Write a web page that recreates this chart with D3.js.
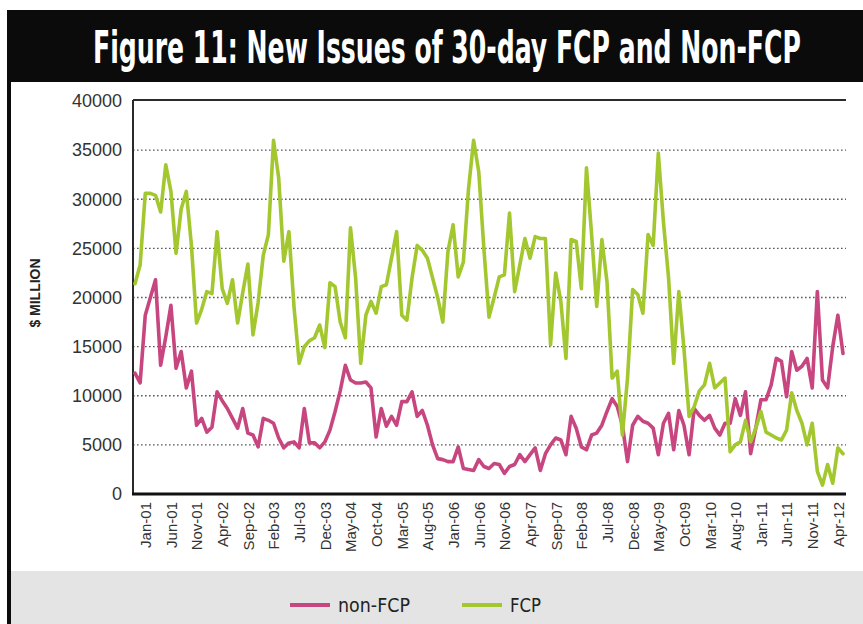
<!DOCTYPE html>
<html>
<head>
<meta charset="utf-8">
<script src="https://cdn.jsdelivr.net/npm/d3@7"></script>
<style>
  body { margin: 0; background: #fff; }
  svg { display: block; }
</style>
</head>
<body>
<svg id="chart" width="863" height="624"></svg>
<script>
// Monthly categories, Nov-00 through May-12
const firstMonth = new Date(2000, 10, 1);
const lastMonth = new Date(2012, 4, 1);
const months = d3.timeMonth.range(firstMonth, d3.timeMonth.offset(lastMonth, 1))
  .map(d3.timeFormat("%b-%y"));

const tickLabels = ["Jan-01","Jun-01","Nov-01","Apr-02","Sep-02","Feb-03","Jul-03","Dec-03",
  "May-04","Oct-04","Mar-05","Aug-05","Jan-06","Jun-06","Nov-06","Apr-07","Sep-07","Feb-08",
  "Jul-08","Dec-08","May-09","Oct-09","Mar-10","Aug-10","Jan-11","Jun-11","Nov-11","Apr-12"];

const yTicks = [0, 5000, 10000, 15000, 20000, 25000, 30000, 35000, 40000];

// New issues, $ million
const nonFCP = [
  12300, 11300, 18200, 20000, 21800, 13100, 16000, 19200, 12800, 14500,
  10800, 12500, 7000, 7700, 6300, 6800, 10400, 9500, 8700, 7700,
  6700, 8700, 6200, 6000, 4800, 7700, 7500, 7200, 5700, 4700,
  5200, 5300, 4700, 8700, 5200, 5200, 4700, 5300, 6500, 8400,
  10500, 13100, 11600, 11300, 11300, 11400, 10800, 5800, 8700, 6900,
  7900, 7000, 9400, 9400, 10400, 7900, 8500, 7000, 5000, 3600,
  3500, 3300, 3300, 4800, 2600, 2500, 2400, 3500, 2800, 2600,
  3100, 3000, 2100, 2800, 3000, 4000, 3300, 4000, 4700, 2400,
  4100, 5000, 5700, 5500, 4000, 7900, 6700, 4800, 4500, 6000,
  6200, 7000, 8400, 9700, 8900, 7000, 3300, 7000, 7900, 7400,
  7200, 6700, 4000, 7200, 8200, 4500, 8500, 7000, 4000, 8700,
  8000, 7500, 8000, 6700, 6000, 7200, 7200, 9700, 8000, 10400,
  4100, 6700, 9600, 9600, 11100, 13800, 13500, 9900, 14500, 12600,
  13000, 13800, 10800, 20600, 11600, 10800, 15000, 18200, 14300
];

const fcp = [
  21400, 23300, 30600, 30600, 30400, 28700, 33500, 30800, 24500, 29000,
  30800, 25300, 17400, 18800, 20600, 20400, 26700, 20900, 19400, 21800,
  17400, 20500, 23400, 16200, 19500, 24300, 26400, 36000, 32200, 23700,
  26700, 19000, 13300, 15000, 15600, 15900, 17200, 14900, 21500, 21100,
  17500, 15900, 27100, 22000, 13300, 18200, 19600, 18400, 21100, 21300,
  24000, 26700, 18200, 17700, 22000, 25300, 24800, 24000, 22000, 20000,
  17500, 24700, 27400, 22100, 23600, 31000, 36000, 32800, 25000, 18000,
  20000, 22100, 22300, 28600, 20600, 23300, 26000, 24000, 26200, 26000,
  26000, 15200, 22500, 19600, 13800, 25900, 25700, 20900, 33200, 26400,
  19100, 25900, 21600, 11800, 12500, 6000, 11800, 20800, 20300, 18400,
  26400, 25300, 34700, 27700, 22000, 13300, 20600, 14800, 7900, 8900,
  10500, 11100, 13300, 10800, 11300, 11800, 4300, 5000, 5300, 7500,
  5300, 6700, 8400, 6300, 6000, 5700, 5500, 6500, 10300, 8500,
  7200, 5000, 7200, 2300, 900, 3000, 1100, 4700, 4100
];

const seriesNames = ["non-FCP", "FCP"];
const seriesValues = [nonFCP, fcp];
const seriesColors = ["#c8467f", "#a3c72f"];

const svg = d3.select("#chart");
const W = 863, H = 624;
const plot = { left: 133, right: 846, top: 100, bottom: 494 };
const condensed = "'Liberation Sans Narrow', 'DejaVu Sans Condensed', 'Liberation Sans', sans-serif";

// Page frame: black title band and left rule
svg.append("rect").attr("x", 0).attr("y", 0).attr("width", W).attr("height", H).attr("fill", "#fff");
svg.append("rect").attr("x", 7).attr("y", 10).attr("width", W - 7).attr("height", 72).attr("fill", "#0b0b0b");
svg.append("rect").attr("x", 7).attr("y", 10).attr("width", 4).attr("height", H - 10).attr("fill", "#0b0b0b");

// Fit a text element horizontally to a given width, keeping its glyph height
function fitWidth(sel, left, base, width) {
  const w = sel.node().getComputedTextLength();
  sel.attr("transform", `translate(${left},${base}) scale(${width / w},1)`);
}

// Title
const title = svg.append("text")
  .attr("font-family", condensed)
  .attr("font-weight", "bold")
  .attr("font-size", 44)
  .attr("fill", "#fff")
  .text("Figure 11: New Issues of 30-day FCP and Non-FCP");
fitWidth(title, 93, 63, 708);

// Legend band
svg.append("rect").attr("x", 11).attr("y", 571).attr("width", W - 11).attr("height", H - 571).attr("fill", "#e4e4e4");

const x = d3.scalePoint().domain(months).range([135, 843]);
const y = d3.scaleLinear().domain([0, 40000]).range([plot.bottom, plot.top + 1]);

// Dotted gridlines
svg.append("g").selectAll("line")
  .data(yTicks.filter(v => v > 0 && v < 40000))
  .join("line")
  .attr("x1", plot.left).attr("x2", plot.right)
  .attr("y1", d => y(d)).attr("y2", d => y(d))
  .attr("stroke", "#5a5a5a").attr("stroke-width", 1.3)
  .attr("stroke-dasharray", "1.6,2.4");

// Y axis labels
const yAxis = svg.append("g")
  .attr("transform", `translate(${plot.left},0)`)
  .call(d3.axisLeft(y).tickValues(yTicks).tickSize(0).tickPadding(11).tickFormat(d3.format("d")));
yAxis.select(".domain").remove();
yAxis.selectAll("text")
  .attr("font-family", "'Liberation Sans', Arial, sans-serif")
  .attr("font-size", 18)
  .attr("fill", "#333");

// Y axis title
svg.append("text")
  .attr("transform", "translate(40,293) rotate(-90)")
  .attr("text-anchor", "middle")
  .attr("font-family", "'Liberation Sans', Arial, sans-serif")
  .attr("font-weight", "bold")
  .attr("font-size", 14)
  .attr("fill", "#222")
  .text("$ MILLION");

// X axis labels, rotated
const xAxis = svg.append("g")
  .attr("transform", `translate(0,${plot.bottom})`)
  .call(d3.axisBottom(x).tickValues(tickLabels).tickSize(0));
xAxis.select(".domain").remove();
xAxis.selectAll("text")
  .attr("transform", "rotate(-90)")
  .attr("x", -8).attr("y", 0).attr("dy", "0.36em")
  .style("text-anchor", "end")
  .attr("font-family", "'Liberation Sans', Arial, sans-serif")
  .attr("font-size", 15)
  .attr("fill", "#333");

// Plot frame
svg.append("line").attr("x1", plot.left).attr("x2", plot.right).attr("y1", plot.top).attr("y2", plot.top)
  .attr("stroke", "#2a2a2a").attr("stroke-width", 2);
svg.append("line").attr("x1", plot.left).attr("x2", plot.left).attr("y1", plot.top).attr("y2", plot.bottom)
  .attr("stroke", "#2a2a2a").attr("stroke-width", 2);

// Series lines
const line = d3.line().x((d, i) => x(months[i])).y(d => y(d));
seriesValues.forEach((vals, k) => {
  svg.append("path")
    .datum(vals)
    .attr("fill", "none")
    .attr("stroke", seriesColors[k])
    .attr("stroke-width", 3.6)
    .attr("stroke-linejoin", "round")
    .attr("stroke-linecap", "round")
    .attr("d", line);
});

// Bottom axis rule
svg.append("line").attr("x1", plot.left - 1).attr("x2", plot.right).attr("y1", plot.bottom).attr("y2", plot.bottom)
  .attr("stroke", "#111").attr("stroke-width", 3);

// Legend
const legendItems = [
  { name: seriesNames[0], color: seriesColors[0], x: 290, w: 72 },
  { name: seriesNames[1], color: seriesColors[1], x: 462, w: 31 }
];
const lg = svg.append("g").selectAll("g").data(legendItems).join("g")
  .attr("transform", d => `translate(${d.x},605)`);
lg.append("line").attr("x1", 0).attr("x2", 40).attr("y1", 0).attr("y2", 0)
  .attr("stroke", d => d.color).attr("stroke-width", 4);
lg.append("text")
  .attr("font-family", condensed)
  .attr("font-size", 20)
  .attr("fill", "#222")
  .text(d => d.name)
  .each(function (d) { fitWidth(d3.select(this), 48, 7, d.w); });
</script>
</body>
</html>
